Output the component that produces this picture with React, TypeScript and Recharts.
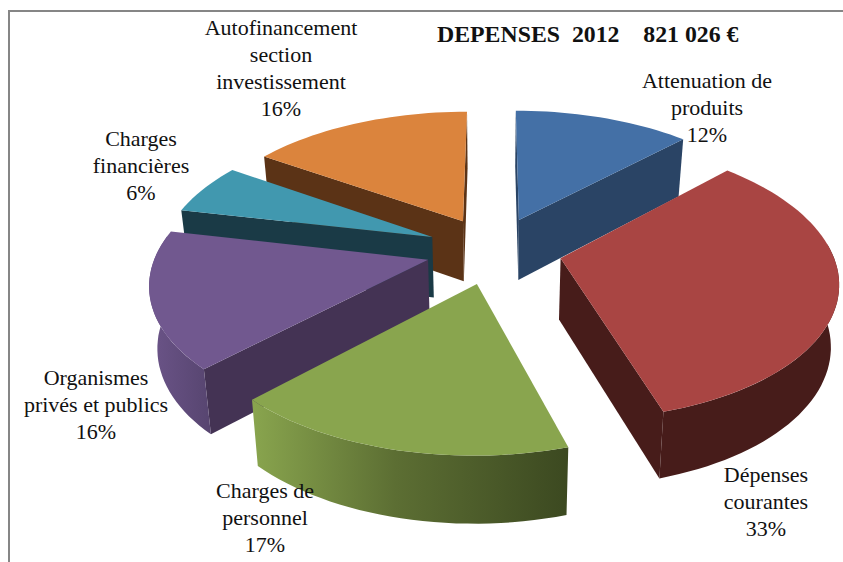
import React from "react";
import { PieChart, Pie } from "recharts";

// ---- data ----
const categories = [
  "Attenuation de produits",
  "Dépenses courantes",
  "Charges de personnel",
  "Organismes privés et publics",
  "Charges financières",
  "Autofinancement section investissement",
];
const values = [12.4, 33, 17, 16, 6, 15.6];
const labelLines = [
  ["Attenuation de", "produits"],
  ["Dépenses", "courantes"],
  ["Charges de", "personnel"],
  ["Organismes", "privés et publics"],
  ["Charges", "financières"],
  ["Autofinancement", "section", "investissement"],
];
const title = "DEPENSES  2012    821 026 €";

// ---- style and layout ----
const topColors = ["#4470A6", "#A94543", "#89A54E", "#71588F", "#4198AF", "#DB843D"];
const edgeColors = ["#2A4465", "#471C1A", "#4A5A26", "#443354", "#1A3A46", "#5B3316"];
const arcFills = ["#2A4465", "#471C1A", "url(#greenWall)", "url(#purpleWall)", "#1A3A46", "#5B3316"];
const paintOrder = [5, 0, 4, 3, 1, 2];
const labelCenters = [707, 766, 265, 96, 141, 281];
const labelBaselines = [88, 482, 498, 385, 146, 35];
const LINE = 27;
const FONT = "'Liberation Serif', 'Times New Roman', serif";

// oblique projection with a mild perspective
const EXPLODE = 68;
const Q = 0.495;
const K = 0.00056;
const DEPTH = 61;
const CONVERGE = 0.024;
const CX = 494;
const CY = 250;
const RADIUS = 271;

const rad = (d: number) => (d * Math.PI) / 180;

function project(cx: number, cy: number, X: number, Y: number, z: number) {
  const p = 1 / (1 - K * Y);
  return {
    x: cx + X * p * (1 - CONVERGE * z),
    y: cy + Y * Q * p + z * DEPTH * (1 + 0.5 * (p - 1)),
  };
}
const toPath = (pts: { x: number; y: number }[]) =>
  "M" + pts.map((q) => `${q.x.toFixed(1)},${q.y.toFixed(1)}`).join("L") + "Z";

const makeSlice = (layer: number) => (props: any) => {
  const idx = categories.indexOf(props.payload?.name ?? props.name);
  if (idx !== layer) return <g />;
  const { cx, cy, outerRadius: R, startAngle, endAngle } = props;
  // clockwise angle from twelve o'clock
  const t0 = 90 - startAngle;
  const t1 = 90 - endAngle;
  const mid = (t0 + t1) / 2;
  const ox = EXPLODE * Math.sin(rad(mid));
  const oy = -EXPLODE * Math.cos(rad(mid));
  const rim = (t: number, z: number, r = R) =>
    project(cx, cy, ox + r * Math.sin(rad(t)), oy - r * Math.cos(rad(t)), z);
  const apex = (z: number) => project(cx, cy, ox, oy, z);

  const arc = (a: number, b: number, z: number) => {
    const n = Math.max(2, Math.ceil(Math.abs(b - a) / 2));
    return Array.from({ length: n + 1 }, (_, i) => rim(a + ((b - a) * i) / n, z));
  };
  const top = [apex(0), ...arc(t0, t1, 0)];

  const interior = rim(mid, 0, R / 2);
  const edgeVisible = (t: number) => {
    const a = apex(0);
    const b = rim(t, 0);
    const ex = b.x - a.x;
    const ey = b.y - a.y;
    const ci = ex * (interior.y - a.y) - ey * (interior.x - a.x);
    const cd = ex * 1;
    return ci * cd < 0;
  };

  const a0 = Math.max(t0, 84);
  const a1 = Math.min(t1, 280);
  const arcWall = a1 > a0 ? [...arc(a0, a1, 0), ...arc(a1, a0, 1)] : null;

  return (
    <g>
      {edgeVisible(t0) && (
        <path d={toPath([apex(0), rim(t0, 0), rim(t0, 1), apex(1)])} fill={edgeColors[idx]} />
      )}
      {edgeVisible(t1) && (
        <path d={toPath([apex(0), rim(t1, 0), rim(t1, 1), apex(1)])} fill={edgeColors[idx]} />
      )}
      {arcWall && <path d={toPath(arcWall)} fill={arcFills[idx]} />}
      <path d={toPath(top)} fill={topColors[idx]} />
    </g>
  );
};

const renderLabel = (props: any) => {
  const i = categories.indexOf(props.payload?.name ?? props.name);
  const lines = [...labelLines[i], `${Math.round(values[i])}%`];
  return (
    <text
      key={i}
      x={labelCenters[i]}
      y={labelBaselines[i]}
      textAnchor="middle"
      fontFamily={FONT}
      fontSize={22}
      fill="#111"
    >
      {lines.map((line, k) => (
        <tspan key={k} x={labelCenters[i]} y={labelBaselines[i] + k * LINE}>
          {line}
        </tspan>
      ))}
    </text>
  );
};

const chartData = categories.map((name, i) => ({ name, value: values[i] }));

export default function App() {
  return (
    <div style={{ position: "absolute", left: 0, top: 0, width: 843, height: 562, background: "#fff", overflow: "hidden" }}>
      <div
        style={{
          position: "absolute",
          left: 8,
          top: 10,
          right: 0,
          bottom: 0,
          borderLeft: "2px solid #868686",
          borderTop: "2px solid #868686",
        }}
      />
      <div style={{ position: "absolute", left: 0, top: 0 }}>
        <PieChart width={843} height={562} margin={{ top: 0, right: 0, bottom: 0, left: 0 }}>
          <defs>
            <linearGradient id="greenWall" gradientUnits="userSpaceOnUse" x1="252" y1="0" x2="572" y2="0">
              <stop offset="0" stopColor="#89A54E" />
              <stop offset="0.45" stopColor="#5C6E33" />
              <stop offset="1" stopColor="#3B4820" />
            </linearGradient>
            <linearGradient id="purpleWall" gradientUnits="userSpaceOnUse" x1="150" y1="0" x2="210" y2="0">
              <stop offset="0" stopColor="#6B5488" />
              <stop offset="1" stopColor="#574570" />
            </linearGradient>
          </defs>
          {paintOrder.map((layer, n) => {
            const Shape = makeSlice(layer);
            const last = n === paintOrder.length - 1;
            return (
              <Pie
                key={layer}
                data={chartData}
                dataKey="value"
                nameKey="name"
                cx={CX}
                cy={CY}
                innerRadius={0}
                outerRadius={RADIUS}
                startAngle={90}
                endAngle={-270}
                stroke="none"
                isAnimationActive={false}
                shape={Shape}
                inactiveShape={Shape}
                label={last ? renderLabel : false}
                labelLine={false}
              />
            );
          })}
          <text x={437} y={42} fontFamily={FONT} fontSize={23.8} fontWeight="bold" fill="#111" style={{ whiteSpace: "pre" }}>
            {title}
          </text>
        </PieChart>
      </div>
    </div>
  );
}
